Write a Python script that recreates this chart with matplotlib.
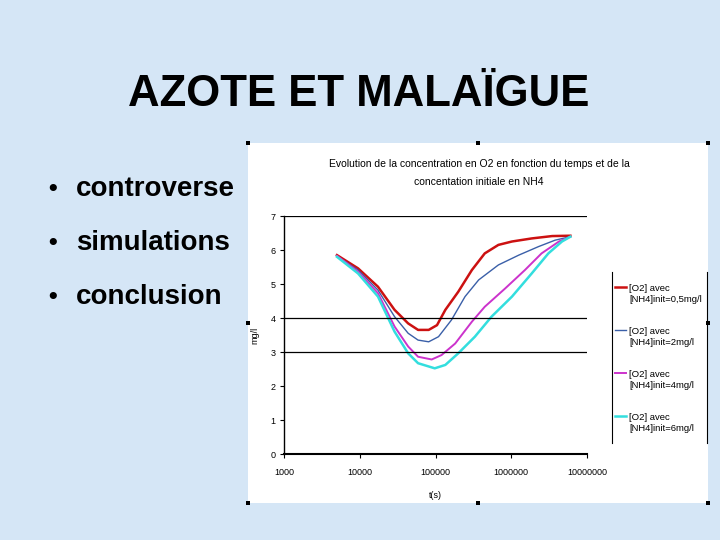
import matplotlib.pyplot as plt
from matplotlib.patches import Rectangle
from matplotlib.lines import Line2D

plt.rcParams['font.family'] = ['Liberation Sans', 'DejaVu Sans']

# data (t in seconds, O2 in mg/l)
t_red = [5000, 9500, 17400, 28800, 43600, 58900, 81300, 104700, 134900, 199500, 302000, 446700, 676100, 1023000, 1862000, 3467000, 6026000]
o2_red = [5.85, 5.46, 4.92, 4.24, 3.84, 3.65, 3.65, 3.79, 4.24, 4.77, 5.41, 5.90, 6.15, 6.25, 6.34, 6.41, 6.42]

t_blue = [5000, 9500, 17400, 28800, 43600, 58900, 81300, 109600, 162200, 245500, 371500, 676100, 1259000, 2291000, 3802000, 6026000]
o2_blue = [5.82, 5.41, 4.82, 4.04, 3.55, 3.35, 3.30, 3.45, 3.94, 4.63, 5.12, 5.56, 5.85, 6.10, 6.29, 6.39]

t_mag = [5000, 9500, 17400, 28800, 43600, 58900, 89100, 120200, 182000, 302000, 446700, 831800, 1514000, 2512000, 4266000, 6026000]
o2_mag = [5.83, 5.36, 4.73, 3.75, 3.16, 2.86, 2.78, 2.91, 3.25, 3.89, 4.33, 4.87, 5.41, 5.90, 6.25, 6.39]

t_cyan = [5000, 9500, 17400, 28800, 43600, 58900, 97700, 134900, 199500, 331100, 549500, 1023000, 1862000, 3090000, 4677000, 6026000]
o2_cyan = [5.80, 5.31, 4.63, 3.60, 2.96, 2.67, 2.52, 2.62, 2.96, 3.45, 4.04, 4.63, 5.31, 5.90, 6.25, 6.39]

labels = ['[O2] avec\n[NH4]init=0,5mg/l', '[O2] avec\n[NH4]init=2mg/l',
          '[O2] avec\n[NH4]init=4mg/l', '[O2] avec\n[NH4]init=6mg/l']
bullets = ['controverse', 'simulations', 'conclusion']

W, H = 720, 540
fig = plt.figure(figsize=(7.2, 5.4), dpi=100)
fig.patch.set_facecolor('#d5e6f6')

def fx(px):
    return px / W

def fy(py):
    return 1 - py / H

# slide text
fig.text(fx(359), fy(94), 'AZOTE ET MALAÏGUE', ha='center', va='center', fontsize=31.5, fontweight='bold')
for i, b in enumerate(bullets):
    yy = fy(189 + i * 54)
    fig.text(fx(48), yy, '•', ha='left', va='center', fontsize=18, fontweight='bold')
    fig.text(fx(76), yy, b, ha='left', va='center', fontsize=20, fontweight='bold')

# white chart picture
fig.patches.append(Rectangle((fx(248), fy(503)), 460 / W, 360 / H, transform=fig.transFigure,
                             facecolor='white', edgecolor='none', zorder=-1))
# selection handles
for hx, hy in [(248, 143), (478, 143), (708, 143), (248, 323), (708, 323), (248, 503), (478, 503), (708, 503)]:
    fig.patches.append(Rectangle((fx(hx) - 2 / W, fy(hy) - 2 / H), 4 / W, 4 / H, transform=fig.transFigure,
                                 facecolor='black', edgecolor='none', zorder=3))

fig.text(fx(479), fy(164), 'Evolution de la concentration en O2 en fonction du temps et de la',
         ha='center', va='center', fontsize=7.5)
fig.text(fx(479), fy(182), 'concentation initiale en NH4', ha='center', va='center', fontsize=7.5)

ax = fig.add_axes([fx(284), fy(454), (587 - 284) / W, (454 - 216) / H])
ax.set_facecolor('white')
ax.plot(t_red, o2_red, color='#cc1111', lw=1.8)
ax.plot(t_blue, o2_blue, color='#3a5fa8', lw=1.0)
ax.plot(t_mag, o2_mag, color='#cc33cc', lw=1.4)
ax.plot(t_cyan, o2_cyan, color='#33dede', lw=1.8)

ax.set_xscale('log')
ax.set_xlim(1000, 1e7)
ax.set_ylim(0, 7)
ax.set_xticks([1e3, 1e4, 1e5, 1e6, 1e7])
ax.set_xticklabels(['1000', '10000', '100000', '1000000', '10000000'])
ax.minorticks_off()
ax.set_yticks(range(8))
for g in [3, 4, 7]:
    ax.axhline(g, color='black', lw=0.9)
for s in ['top', 'right']:
    ax.spines[s].set_visible(False)
ax.spines['left'].set_linewidth(1.0)
ax.spines['bottom'].set_linewidth(1.5)
ax.tick_params(labelsize=6.5, length=3, width=0.8, pad=3)
ax.tick_params(axis='x', pad=7)
ax.set_xlabel('t(s)', fontsize=6.5, labelpad=10)
ax.set_ylabel('mg/l', fontsize=6.5, labelpad=8)

# legend
cols = ['#cc1111', '#3a5fa8', '#cc33cc', '#33dede']
lws = [1.8, 1.0, 1.4, 1.8]
for i, (c, lab) in enumerate(zip(cols, labels)):
    yy = 294 + i * 43
    fig.lines.append(Line2D([fx(615), fx(626)], [fy(yy - 7)] * 2, color=c, lw=lws[i], transform=fig.transFigure))
    fig.text(fx(629), fy(yy), lab, ha='left', va='center', fontsize=6.8, linespacing=1.4)
fig.lines.append(Line2D([fx(612)] * 2, [fy(272), fy(443)], color='black', lw=0.8, transform=fig.transFigure))
fig.lines.append(Line2D([fx(707)] * 2, [fy(272), fy(443)], color='black', lw=0.8, transform=fig.transFigure))

fig.savefig('out.png', dpi=100, facecolor=fig.get_facecolor())
